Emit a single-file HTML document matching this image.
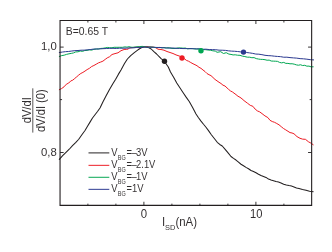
<!DOCTYPE html>
<html><head><meta charset="utf-8">
<style>
html,body{margin:0;padding:0;background:#fff;}
body{width:332px;height:252px;overflow:hidden;}
svg{display:block;will-change:transform;}
text{font-family:"Liberation Sans",sans-serif;fill:#231f20;}
</style></head><body>
<svg width="332" height="252" viewBox="0 0 332 252">
<rect width="332" height="252" fill="#fff"/>
<g fill="none" stroke-linejoin="round" stroke-linecap="round">
<path d="M59.30,159.40 L62.65,155.59 L66.00,152.30 L69.25,149.24 L72.50,145.70 L75.62,142.66 L78.75,139.25 L81.88,134.70 L85.00,130.50 L87.50,126.33 L90.00,122.13 L92.50,118.00 L95.00,114.77 L97.50,111.54 L100.00,108.00 L103.00,101.72 L106.00,96.00 L109.50,89.42 L113.00,83.50 L115.67,79.20 L118.33,74.39 L121.00,69.90 L124.50,63.50 L127.40,59.00 L130.70,55.60 L134.30,52.60 L138.00,49.80 L141.30,47.80 L144.80,46.80 L148.00,47.40 L151.20,49.00 L153.90,51.68 L156.60,54.00 L161.10,58.60 L164.30,61.20 L168.30,67.00 L170.50,72.00 L173.62,77.15 L176.75,83.00 L179.88,87.71 L183.00,92.50 L186.12,97.16 L189.25,101.50 L192.62,107.56 L196.00,114.00 L198.50,117.73 L201.00,121.11 L203.50,124.25 L206.00,127.25 L208.50,130.58 L211.00,134.25 L214.12,138.30 L217.25,142.30 L219.75,144.46 L222.25,146.00 L225.17,149.42 L228.08,152.80 L231.00,156.50 L233.50,158.38 L236.00,160.05 L238.50,162.12 L241.00,164.25 L243.50,165.77 L246.00,167.37 L248.50,168.75 L251.00,170.50 L253.50,171.56 L256.00,172.80 L258.50,174.22 L261.00,175.50 L263.50,176.48 L266.00,177.42 L268.50,179.11 L271.00,180.00 L273.50,180.79 L276.00,181.60 L278.50,182.03 L281.00,183.00 L283.67,184.21 L286.33,184.99 L289.00,185.60 L291.50,186.08 L294.00,186.98 L296.50,188.01 L299.00,188.60 L302.50,189.60 L306.00,190.30 L309.60,191.31 L313.20,191.70" stroke="#231f20" stroke-width="1.05"/>
<path d="M59.30,89.70 L61.66,88.53 L64.03,86.84 L66.39,84.19 L68.75,83.00 L70.75,80.94 L72.75,80.17 L74.75,78.46 L76.75,76.79 L78.75,75.00 L80.84,73.44 L82.92,72.42 L85.01,71.07 L87.10,69.60 L89.38,68.34 L91.65,66.52 L93.92,65.47 L96.20,64.20 L98.45,62.88 L100.70,62.05 L102.95,61.14 L105.20,59.40 L107.20,57.90 L109.60,56.69 L112.00,54.50 L115.00,53.60 L118.00,52.80 L121.00,50.70 L124.10,49.50 L126.20,49.35 L128.30,49.10 L129.50,47.90 L133.00,47.50 L135.50,47.29 L138.00,47.20 L140.27,46.85 L142.53,46.49 L144.80,46.90 L146.93,46.41 L149.07,46.93 L151.20,47.00 L153.45,47.15 L155.70,47.70 L158.00,49.20 L161.00,49.50 L164.00,50.20 L167.00,51.50 L170.00,52.50 L173.00,53.50 L176.00,54.90 L179.80,56.20 L182.00,57.40 L184.20,58.54 L186.40,60.37 L188.60,61.24 L190.80,62.55 L193.00,63.75 L195.00,64.71 L197.00,65.73 L199.00,67.31 L201.00,68.35 L203.00,70.00 L205.00,71.51 L207.00,73.55 L209.00,74.69 L211.00,75.65 L213.00,77.50 L215.00,79.43 L217.00,80.83 L219.00,82.26 L221.00,83.50 L223.00,85.20 L225.00,86.00 L228.50,89.30 L230.50,90.94 L232.50,92.00 L236.00,94.60 L238.00,96.27 L240.00,97.30 L242.00,98.79 L244.00,100.60 L247.60,103.30 L250.25,105.33 L252.90,106.30 L255.15,109.11 L257.40,110.90 L259.70,111.88 L262.00,113.60 L264.95,115.88 L267.90,117.60 L270.00,120.30 L272.25,121.54 L274.50,122.30 L276.75,123.51 L279.00,124.80 L281.25,126.68 L283.50,128.50 L285.75,129.89 L288.00,131.30 L290.00,132.60 L292.00,132.97 L294.00,133.80 L297.00,136.60 L300.00,138.30 L302.70,139.16 L305.40,139.30 L308.50,141.80 L310.85,143.09 L313.20,144.70" stroke="#ed1c24" stroke-width="1.0"/>
<path d="M59.30,56.50 L61.72,55.59 L64.15,55.19 L66.58,54.36 L69.00,53.80 L71.25,53.39 L73.50,52.91 L75.75,51.91 L78.00,51.80 L80.25,51.01 L82.50,51.40 L84.75,50.53 L87.00,50.40 L89.30,49.81 L91.60,50.15 L93.90,49.32 L96.20,49.00 L98.45,49.03 L100.70,48.43 L102.95,48.30 L105.20,47.90 L107.45,47.44 L109.70,47.72 L111.95,47.78 L114.20,47.30 L116.95,47.32 L119.70,47.30 L122.35,47.32 L125.00,46.90 L127.00,47.15 L129.00,46.71 L131.00,47.20 L133.00,47.30 L135.00,47.02 L137.00,46.80 L139.60,46.62 L142.20,46.38 L144.80,46.80 L147.20,47.23 L149.60,46.98 L152.00,47.10 L154.00,47.37 L156.00,47.59 L158.00,47.52 L160.00,47.40 L162.00,47.88 L164.00,47.51 L166.00,47.97 L168.00,47.75 L170.00,47.90 L172.00,48.43 L174.00,48.51 L176.00,48.30 L178.33,47.90 L180.67,47.91 L183.00,48.20 L185.33,48.05 L187.67,48.82 L190.00,48.50 L192.33,48.61 L194.67,48.95 L197.00,49.00 L199.00,49.02 L201.00,49.40 L203.33,49.61 L205.67,49.70 L208.00,50.00 L210.43,50.23 L212.87,50.81 L215.30,51.10 L217.10,52.30 L220.70,51.70 L223.50,53.50 L226.20,52.70 L228.90,54.10 L231.00,54.41 L233.10,54.93 L235.20,54.80 L237.60,55.21 L240.00,55.30 L242.43,56.16 L244.85,56.57 L247.27,57.17 L249.70,57.20 L251.89,57.71 L254.07,57.61 L256.26,58.60 L258.44,59.05 L260.63,59.35 L262.81,59.41 L265.00,59.70 L267.08,60.23 L269.17,60.12 L271.25,61.02 L273.33,61.13 L275.42,61.21 L277.50,61.36 L279.58,62.41 L281.67,62.87 L283.75,62.40 L285.83,63.39 L287.92,63.38 L290.00,63.80 L292.11,63.76 L294.22,64.16 L296.33,64.86 L298.44,65.23 L300.55,64.75 L302.65,65.54 L304.76,65.30 L306.87,66.18 L308.98,66.10 L311.09,66.87 L313.20,66.80" stroke="#00a651" stroke-width="1.0"/>
<path d="M59.30,52.50 L62.42,52.06 L65.53,51.67 L68.65,51.46 L71.77,51.03 L74.88,50.66 L78.00,50.50 L81.03,50.21 L84.07,50.17 L87.10,49.87 L90.13,49.61 L93.17,49.14 L96.20,49.00 L99.56,48.90 L102.91,48.68 L106.27,48.53 L109.63,48.39 L112.99,48.31 L116.34,48.49 L119.70,48.20 L123.13,48.23 L126.57,48.12 L130.00,47.90 L133.33,47.85 L136.67,47.44 L140.00,47.40 L144.80,47.10 L150.00,47.20 L153.33,47.22 L156.67,47.45 L160.00,47.50 L163.20,47.75 L166.40,47.96 L169.60,48.13 L172.80,47.97 L176.00,48.30 L179.50,48.44 L183.00,48.57 L186.50,48.60 L190.00,48.70 L193.20,48.67 L196.40,48.89 L199.60,48.84 L202.80,49.27 L206.00,49.20 L209.25,49.55 L212.50,49.62 L215.75,49.72 L219.00,50.16 L222.25,50.23 L225.50,50.40 L228.50,50.84 L231.50,51.11 L234.50,51.25 L237.50,51.50 L240.50,51.86 L243.50,52.10 L246.57,52.53 L249.64,52.88 L252.71,53.39 L255.79,54.05 L258.86,54.20 L261.93,54.66 L265.00,55.30 L268.12,55.64 L271.25,55.79 L274.38,56.18 L277.50,56.44 L280.62,56.67 L283.75,57.22 L286.88,57.19 L290.00,57.60 L293.37,57.89 L296.74,58.14 L300.11,58.64 L303.49,58.82 L306.86,59.19 L310.23,59.67 L313.60,59.90" stroke="#2b3990" stroke-width="1.0"/>
</g>
<circle cx="164.5" cy="61.25" r="2.7" fill="#231f20"/>
<circle cx="182" cy="58" r="2.7" fill="#ed1c24"/>
<circle cx="201" cy="50.8" r="2.7" fill="#00a651"/>
<circle cx="243.5" cy="52.1" r="2.7" fill="#2b3990"/>
<!-- frame -->
<path d="M60.05,20.5 H311.65 V205.35 H60.05 Z" fill="none" stroke="#231f20" stroke-width="1.1"/>
<g stroke="#231f20" stroke-width="0.9">
<!-- bottom ticks -->
<path d="M143.9,205.35v-3.6 M255.9,205.35v-3.6 M87.9,205.35v-1.7 M115.9,205.35v-1.7 M171.9,205.35v-1.7 M199.9,205.35v-1.7 M227.9,205.35v-1.7 M283.9,205.35v-1.7"/>
<!-- top ticks -->
<path d="M143.9,20.5v3.5 M255.9,20.5v3.5 M87.9,20.5v2 M115.9,20.5v2 M171.9,20.5v2 M199.9,20.5v2 M227.9,20.5v2 M283.9,20.5v2"/>
<!-- left ticks -->
<path d="M60.05,47.1h3.6 M60.05,152.5h3.6 M60.05,99.6h2"/>
<!-- right ticks -->
<path d="M311.65,47.1h-3.6 M311.65,152.5h-3.6 M311.65,99.6h-2"/>
</g>
<g opacity="0.94">
<text x="65.8" y="35.15" font-size="10.4">B=0.65 T</text>
<text transform="translate(56.8,50.4) scale(0.97,1)" font-size="11.7" text-anchor="end">1,0</text>
<text transform="translate(56.8,155.6) scale(0.97,1)" font-size="11.7" text-anchor="end">0,8</text>
<text transform="translate(143.9,217.6) scale(0.95,1)" font-size="12" text-anchor="middle">0</text>
<text transform="translate(256.3,217.6) scale(0.93,1)" font-size="12" text-anchor="middle">10</text>
<text transform="translate(161.9,225.6) scale(0.93,1)" font-size="12.3">I<tspan font-size="8" dy="4.8">SD</tspan><tspan font-size="12.3" dy="-4.8">(nA)</tspan></text>
<!-- y label -->
<g transform="translate(0,0)">
<text transform="translate(31.3,123.3) rotate(-90) scale(0.94,1)" font-size="11.9">dV/dI</text>
<line x1="32.8" y1="88.3" x2="32.8" y2="132.6" stroke="#231f20" stroke-width="0.8"/>
<text transform="translate(44.9,132.1) rotate(-90) scale(0.94,1)" font-size="11.9">dV/dI (0)</text>
</g>
<!-- legend -->
<g stroke-width="1.05">
<line x1="88.5" y1="152.9" x2="109.3" y2="152.9" stroke="#231f20"/>
<line x1="88.5" y1="165.35" x2="109.3" y2="165.35" stroke="#ed1c24"/>
<line x1="88.5" y1="177.3" x2="109.3" y2="177.3" stroke="#00a651"/>
<line x1="88.5" y1="189.35" x2="109.3" y2="189.35" stroke="#2b3990"/>
</g>
<g font-size="10.8">
<text transform="translate(111.3,155.8) scale(0.87,1)">V<tspan font-size="6.3" dy="3.9" dx="0.3">BG</tspan><tspan dy="-3.9" dx="0.9" letter-spacing="-0.65">=–</tspan>3V</text>
<text transform="translate(111.3,168.1) scale(0.87,1)">V<tspan font-size="6.3" dy="3.9" dx="0.3">BG</tspan><tspan dy="-3.9" dx="0.9" letter-spacing="-0.65">=–</tspan>2.1V</text>
<text transform="translate(111.3,180.1) scale(0.87,1)">V<tspan font-size="6.3" dy="3.9" dx="0.3">BG</tspan><tspan dy="-3.9" dx="0.9" letter-spacing="-0.65">=–</tspan>1V</text>
<text transform="translate(111.3,192.2) scale(0.87,1)">V<tspan font-size="6.3" dy="3.9" dx="0.3">BG</tspan><tspan dy="-3.9" dx="0.9">=1V</tspan></text>
</g>
</g>
</svg>
</body></html>
